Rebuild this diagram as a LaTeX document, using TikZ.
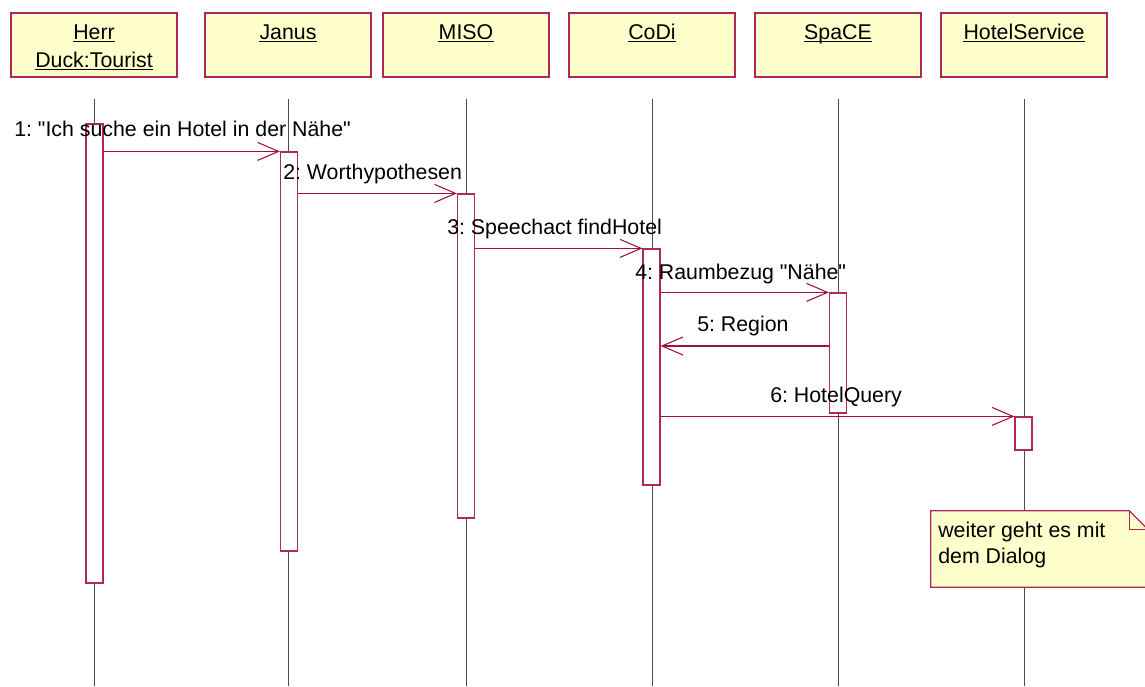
\documentclass[tikz,border=0pt]{standalone}
\usepackage{fontspec}
\setmainfont{Liberation Sans}
\usetikzlibrary{arrows.meta}

\definecolor{umlfill}{RGB}{255,255,204}
\definecolor{umlline}{RGB}{176,40,88}
\definecolor{msgline}{RGB}{160,16,64}

\tikzset{
  objbox/.style={draw=umlline,fill=umlfill,line width=0.9pt,
    minimum width=124.5pt,minimum height=48pt,inner sep=0pt},
  objname/.style={font=\fontsize{16}{21}\selectfont,inner sep=0pt,anchor=base},
  underl/.style={draw=black,line width=0.75pt},
  lifeline/.style={draw=black!70,line width=0.75pt},
  actbar/.style={draw=umlline,fill=white,line width=0.9pt,
    minimum width=12.75pt,inner sep=0pt},
  msg/.style={draw=msgline,line width=0.8pt,
    -{Straight Barb[length=15.75pt,width=13.5pt,line width=0.8pt]}},
  msglabel/.style={font=\fontsize{16}{21}\selectfont,inner sep=0pt,anchor=base west},
  notebox/.style={minimum width=162.75pt,minimum height=57pt,inner sep=0pt},
  notetext/.style={font=\fontsize{16}{19.5}\selectfont,inner sep=0pt,
    anchor=base west,align=left},
}

\begin{document}
\frenchspacing
\begin{tikzpicture}[x=0.75pt,y=-0.75pt]
  \useasboundingbox (0,0) rectangle (1145,686);
  \clip (0,0) rectangle (1145,686);

  %% ---- Objects and lifelines ----
  \foreach \n/\x/\lbl in {tour/94/Herr, janus/288/Janus, miso/466/MISO,
                          codi/652/CoDi, space/838/SpaCE, hotel/1024/HotelService} {
    \node[objbox] (\n) at (\x,45) {};
    \node[objname] (\n-name) at (\x,39) {\lbl};
    \draw[underl] ([yshift=-1.6pt]\n-name.base west) -- ([yshift=-1.6pt]\n-name.base east);
    \coordinate (\n-top) at (\x,99);
    \coordinate (\n-end) at (\x,686);
    \draw[lifeline] (\n-top) -- (\n-end);
  }
  \node[objname] (tour-name2) at (94,67) {Duck:Tourist};
  \draw[underl] ([yshift=-1.6pt]tour-name2.base west) -- ([yshift=-1.6pt]tour-name2.base east);

  %% ---- Activation bars ----
  \foreach \n/\x/\t/\b in {tour/94.5/124/583, janus/289/152/551, miso/466/194/518,
                           codi/651.5/249/485, space/838/293/413, hotel/1023.5/417/450} {
    \node[actbar,minimum height={(\b-\t)*0.75pt}] (\n-bar) at (\x,{(\t+\b)/2}) {};
  }

  %% ---- Messages ----
  \coordinate (ret) at (0,346);
  \draw[msg] (tour-bar.east |- janus-bar.north) -- (janus-bar.north west);
  \draw[msg] (janus-bar.east |- miso-bar.north) -- (miso-bar.north west);
  \draw[msg] (miso-bar.east |- codi-bar.north) -- (codi-bar.north west);
  \draw[msg] (codi-bar.east |- space-bar.north) -- (space-bar.north west);
  \draw[msg] (space-bar.west |- ret) -- (codi-bar.east |- ret);
  \draw[msg] (codi-bar.east |- hotel-bar.north) -- (hotel-bar.north west);

  \node[msglabel] (m1) at (14,136) {1: \textquotedbl Ich suche ein Hotel in der Nähe\textquotedbl};
  \node[msglabel] (m2) at (283,179) {2: Worthypothesen};
  \node[msglabel] (m3) at (447,234) {3: Speechact findHotel};
  \node[msglabel] (m4) at (635,279) {4: Raumbezug \textquotedbl Nähe\textquotedbl};
  \node[msglabel] (m5) at (697,331) {5: Region};
  \node[msglabel] (m6) at (770,402) {6: HotelQuery};

  %% ---- Note ----
  \node[notebox] (note) at (1039.5,549) {};
  \draw[draw=umlline,fill=umlfill,line width=0.9pt]
    (note.north west) -- ([xshift=-14.25pt]note.north east)
    -- ([yshift=-14.25pt]note.north east) -- (note.south east)
    -- (note.south west) -- cycle;
  \draw[draw=umlline,line width=0.9pt]
    ([xshift=-14.25pt]note.north east) -- ([xshift=-14.25pt,yshift=-14.25pt]note.north east)
    -- ([yshift=-14.25pt]note.north east);
  \node[notetext] (note-txt) at (938,563) {weiter geht es mit\\dem Dialog};

\end{tikzpicture}
\end{document}
